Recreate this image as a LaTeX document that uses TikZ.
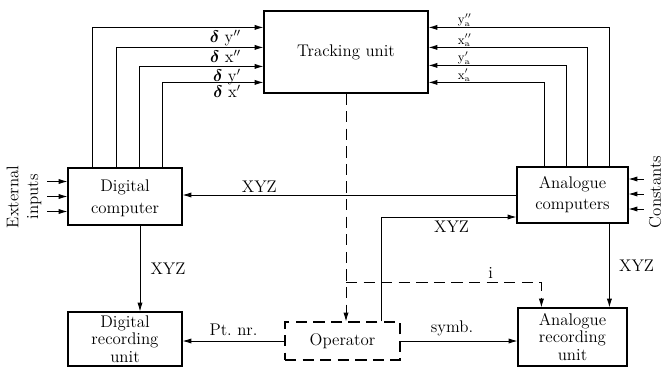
\documentclass[tikz,border=0pt]{standalone}
\usepackage{amsmath}
\usetikzlibrary{arrows.meta, positioning, calc}

\begin{document}
\begin{tikzpicture}[x=0.025cm, y=-0.025cm,
        font=\fontsize{12}{14}\selectfont,
        unit/.style={rectangle, draw, thick, align=center, inner sep=0pt},
        opbox/.style={unit, dash pattern=on 8pt off 4.5pt},
        arr/.style={-{Latex[length=2.2mm,width=1.3mm]}, semithick},
        darr/.style={arr, dash pattern=on 8pt off 4.5pt},
        lbl/.style={inner sep=1.5pt},
        albl/.style={inner sep=0pt, anchor=south west, xshift=0.72cm, yshift=0.5pt,
                     font=\fontsize{9}{11}\selectfont}]
      \useasboundingbox (0,0) rectangle (665,369);
      \node[unit, minimum width=4.1cm, minimum height=2.05cm] (track) at (346,52) {Tracking unit};
      \node[unit, minimum width=2.85cm, minimum height=1.425cm, text depth=0pt,
            font=\fontsize{12}{16}\selectfont] (dcomp) at (125,196.5) {Digital\\computer};
      \node[unit, minimum width=2.775cm, minimum height=1.4cm,
            font=\fontsize{12}{15}\selectfont] (acomp) at (572.5,195) {Analogue\\computers};
      \node[unit, minimum width=2.85cm, minimum height=1.35cm,
            font=\fontsize{12}{12.5}\selectfont] (drec) at (125,339) {Digital\\recording\\unit};
      \node[unit, minimum width=2.725cm, minimum height=1.45cm,
            font=\fontsize{12}{12.5}\selectfont] (arec) at (572.5,337) {Analogue\\recording\\unit};
      \node[opbox, minimum width=2.875cm, minimum height=0.95cm] (oper) at (342.5,341) {Operator};
      \node[rotate=90, align=center] (extin) at (24,197) {External\\inputs};
      \node[rotate=90] (const) at (655,192) {Constants};
      % digital computer -> tracking unit
      \draw[arr] ($(dcomp.north west)+(25,0)$) |- ($(track.north west)+(0,17)$)
            node[lbl, anchor=north east, xshift=-0.5cm] (ldy2) {$\boldsymbol{\delta}\ \mathrm{y}''$};
      \draw[arr] ($(dcomp.north west)+(49,0)$) |- ($(track.north west)+(0,37)$)
            node[lbl, anchor=north east, xshift=-0.5cm] (ldx2) {$\boldsymbol{\delta}\ \mathrm{x}''$};
      \draw[arr] ($(dcomp.north west)+(72,0)$) |- ($(track.north west)+(0,56)$)
            node[lbl, anchor=north east, xshift=-0.5cm] (ldy1) {$\boldsymbol{\delta}\ \mathrm{y}'$};
      \draw[arr] ($(dcomp.north west)+(95,0)$) |- ($(track.north west)+(0,72)$)
            node[lbl, anchor=north east, xshift=-0.5cm] (ldx1) {$\boldsymbol{\delta}\ \mathrm{x}'$};
      % analogue computers -> tracking unit
      \draw[arr] ($(acomp.north west)+(93,0)$) |- ($(track.north east)+(0,17)$)
            node[albl] (lya2) {$\mathrm{y}''_{\mathrm{a}}$};
      \draw[arr] ($(acomp.north west)+(71,0)$) |- ($(track.north east)+(0,37)$)
            node[albl] (lxa2) {$\mathrm{x}''_{\mathrm{a}}$};
      \draw[arr] ($(acomp.north west)+(50,0)$) |- ($(track.north east)+(0,55)$)
            node[albl] (lya1) {$\mathrm{y}'_{\mathrm{a}}$};
      \draw[arr] ($(acomp.north west)+(28,0)$) |- ($(track.north east)+(0,72)$)
            node[albl] (lxa1) {$\mathrm{x}'_{\mathrm{a}}$};
      % inputs and constants
      \foreach \dy in {-15,0,15}
        \draw[arr] ($(dcomp.west)+(-20,\dy)$) -- ($(dcomp.west)+(0,\dy)$);
      \foreach \dy in {-16,-1,14}
        \draw[arr] ($(acomp.east)+(15,\dy)$) -- ($(acomp.east)+(0,\dy)$);
      % XYZ flows
      \draw[arr] (acomp.west) -- (acomp.west -| dcomp.east)
            node[lbl, pos=0.77, above] (lxyz1) {XYZ};
      \draw[arr] ($(dcomp.south)+(15,0)$) -- ($(drec.north)+(15,0)$)
            node[lbl, midway, right=0.2cm] (lxyz2) {XYZ};
      \coordinate (adown) at ($(acomp.south west)+(93,0)$);
      \draw[arr] (adown) -- (adown |- arec.north)
            node[lbl, midway, right=0.18cm] (lxyz3) {XYZ};
      \draw[arr] ($(oper.north west)+(97,0)$) |- ($(acomp.west)+(0,22)$)
            node[lbl, pos=0.76, below=1pt] (lxyz4) {XYZ};
      % operator
      \draw[arr] (oper.west) -- (oper.west -| drec.east)
            node[lbl, midway, above=2pt] (lptnr) {Pt.\ nr.};
      \draw[arr] (oper.east) -- (oper.east -| arec.west)
            node[lbl, midway, above=2pt, xshift=-5] (lsymb) {symb.};
      \draw[darr] (track.south) -- (track.south |- oper.north);
      \coordinate (ibr) at (track.south |- 0,282);
      \draw[darr] (ibr) -| ($(arec.north west)+(24,0)$)
            node[lbl, pos=0.37, above=1pt] (li) {i};
    \end{tikzpicture}
\end{document}
